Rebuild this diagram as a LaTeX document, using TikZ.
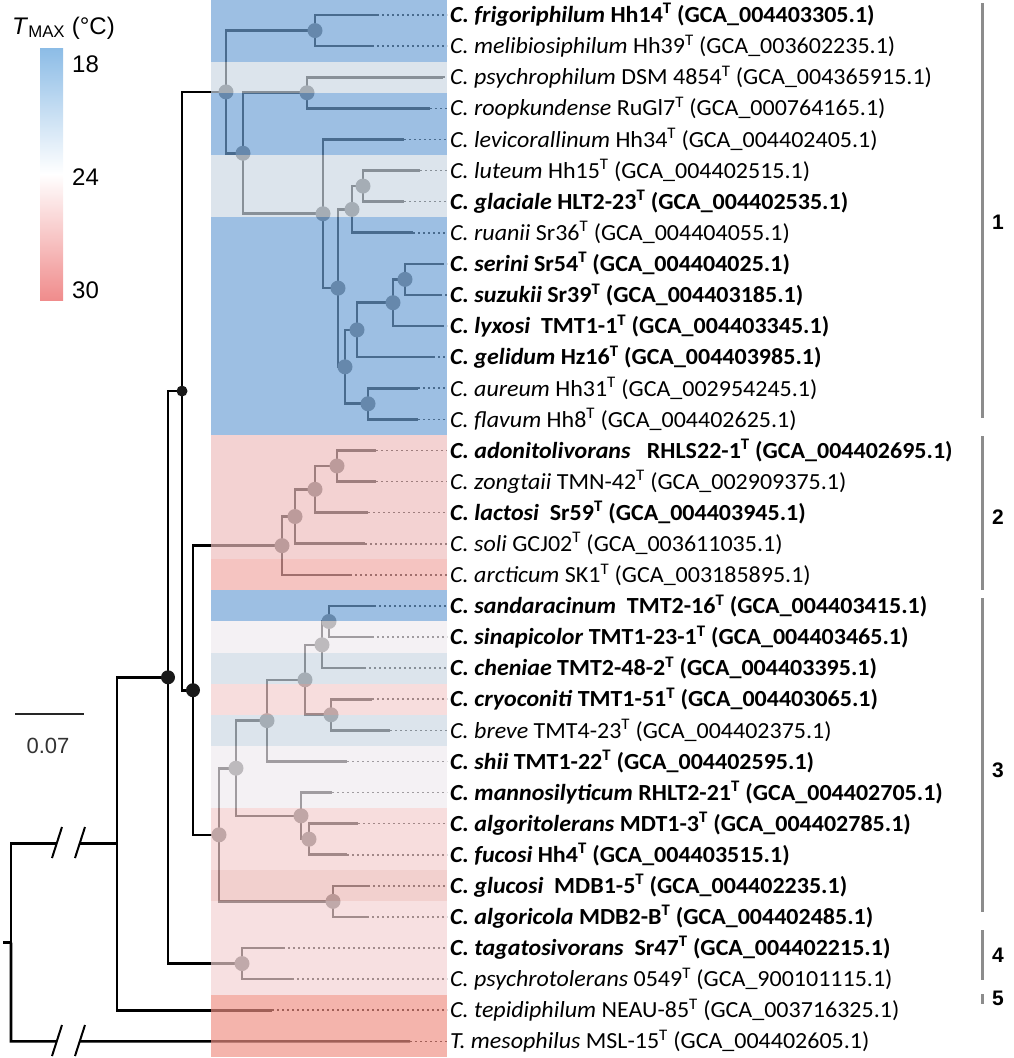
\documentclass[tikz,border=0pt]{standalone}
\usepackage{fontspec}
\setmainfont{Carlito}
\newfontfamily\arialfont{Liberation Sans}
\usepackage{graphicx}
\usetikzlibrary{positioning}

% band colours, laid over the tree at 67% opacity
\definecolor{bandblue}{RGB}{109,160,213}
\definecolor{bandpale}{RGB}{203,215,227}
\definecolor{bandpink}{RGB}{237,188,188}
\definecolor{bandarc}{RGB}{240,167,163}
\definecolor{bandwhite}{RGB}{239,234,239}
\definecolor{bandpinkl}{RGB}{243,204,204}
\definecolor{bandgluc}{RGB}{236,185,182}
\definecolor{bandpinkm}{RGB}{243,209,210}
\definecolor{bandsalmon}{RGB}{239,143,131}
% legend colours
\definecolor{legblue}{RGB}{140,188,230}
\definecolor{legpink}{RGB}{240,140,140}
\definecolor{cladegray}{RGB}{140,140,140}

\newcommand{\taxon}[3]{\scalebox{1}[0.96]{\textit{#1} #2\textsuperscript{T} (GCA\_#3)}}
\newcommand{\taxonb}[3]{\scalebox{1}[0.96]{\bfseries\textit{#1} #2\textsuperscript{T} (GCA\_#3)}}

\begin{document}
\begin{tikzpicture}[
    x=1pt, y=-1pt,
    % Tree styles
    branch/.style={line width=2.6pt, black},
    leader/.style={line width=1.6pt, black, dash pattern=on 1.6pt off 3.4pt},
    inode/.style={circle, fill=black!65, minimum size=15pt, inner sep=0pt},
    bnode/.style={circle, fill=black!90, minimum size=14pt, inner sep=0pt},
    band/.style={fill opacity=0.67},
    brk/.style={line width=2pt, black},
    % Text styles
    taxlabel/.style={anchor=west, inner sep=0pt, font=\fontsize{24}{26}\selectfont},
    legtext/.style={anchor=west, inner sep=0pt, font=\arialfont\fontsize{24}{26}\selectfont},
    cladenum/.style={inner sep=0pt, font=\arialfont\bfseries\fontsize{21}{24}\selectfont},
    cladebar/.style={line width=3pt, cladegray},
]
\useasboundingbox (0,0) rectangle (1013,1058);

% Leaf ends and leader dots
\foreach \i/\xe in {1/377, 2/372, 3/443, 4/430, 5/404, 6/420, 7/404, 8/413, 9/442, 10/440,
    11/442, 12/433, 13/418, 14/418, 15/376, 16/376, 17/368, 18/365, 19/350, 20/374,
    21/372, 22/364, 23/372, 24/390, 25/347, 26/332, 27/358, 28/347, 29/368, 30/367,
    31/283, 32/292, 33/272, 34/410} {
  \coordinate (l\i) at (\xe, {15+(\i-1)*31.1});
  \coordinate (e\i) at (447, {15+(\i-1)*31.1});
  \draw[leader] (l\i) -- (e\i);
}

% Clade 1
\coordinate (c1a) at (315, 30.55);
\coordinate (c1c) at (307, 92.75);
\coordinate (c1g) at (363, 186.05);
\coordinate (c1f) at (352, 209.4);
\coordinate (c1k) at (405, 279.35);
\coordinate (c1j) at (393, 302.7);
\coordinate (c1i) at (357, 329.9);
\coordinate (c1l) at (368, 403.75);
\coordinate (c1h) at (345, 366.8);
\coordinate (c1e) at (338, 288.1);
\coordinate (c1d) at (323, 213.75);
\coordinate (c1b) at (243, 153.25);
\coordinate (c1) at (226, 91.9);
% Clade 2
\coordinate (c2d) at (337, 465.95);
\coordinate (c2c) at (315, 489.3);
\coordinate (c2b) at (295, 516.5);
\coordinate (c2) at (282, 545.65);
% Clade 3
\coordinate (c3f) at (329, 621.45);
\coordinate (c3e) at (322, 644.8);
\coordinate (c3g) at (331, 714.75);
\coordinate (c3d) at (305, 679.8);
\coordinate (c3c) at (267, 720.6);
\coordinate (c3j) at (309, 839.15);
\coordinate (c3i) at (301, 815.8);
\coordinate (c3b) at (236, 768.2);
\coordinate (c3k) at (333, 901.35);
\coordinate (c3) at (219, 834.8);
% Clade 4
\coordinate (c4) at (242, 963.55);
% Backbone
\coordinate (nC) at (193, 690.2);
\coordinate (nB) at (182, 391.05);
\coordinate (nA) at (168, 677.3);
\coordinate (nR) at (117, 843.75);
\coordinate (root) at (11, 942.5);
\coordinate (tick) at (3, 942.5);
\coordinate (b1) at (57, 843.75);
\coordinate (b2) at (80, 843.75);
\coordinate (b3) at (57, 1041.3);
\coordinate (b4) at (80, 1041.3);

% Branches
\draw[branch] (c1a) |- (l1) (c1a) |- (l2);
\draw[branch] (c1c) |- (l3) (c1c) |- (l4);
\draw[branch] (c1g) |- (l6) (c1g) |- (l7);
\draw[branch] (c1f) |- (c1g) (c1f) |- (l8);
\draw[branch] (c1k) |- (l9) (c1k) |- (l10);
\draw[branch] (c1j) |- (c1k) (c1j) |- (l11);
\draw[branch] (c1i) |- (c1j) (c1i) |- (l12);
\draw[branch] (c1l) |- (l13) (c1l) |- (l14);
\draw[branch] (c1h) |- (c1i) (c1h) |- (c1l);
\draw[branch] (c1e) |- (c1f) (c1e) |- (c1h);
\draw[branch] (c1d) |- (l5) (c1d) |- (c1e);
\draw[branch] (c1b) |- (c1c) (c1b) |- (c1d);
\draw[branch] (c1) |- (c1a) (c1) |- (c1b);
\draw[branch] (c2d) |- (l15) (c2d) |- (l16);
\draw[branch] (c2c) |- (c2d) (c2c) |- (l17);
\draw[branch] (c2b) |- (c2c) (c2b) |- (l18);
\draw[branch] (c2) |- (c2b) (c2) |- (l19);
\draw[branch] (c3f) |- (l20) (c3f) |- (l21);
\draw[branch] (c3e) |- (c3f) (c3e) |- (l22);
\draw[branch] (c3g) |- (l23) (c3g) |- (l24);
\draw[branch] (c3d) |- (c3e) (c3d) |- (c3g);
\draw[branch] (c3c) |- (c3d) (c3c) |- (l25);
\draw[branch] (c3j) |- (l27) (c3j) |- (l28);
\draw[branch] (c3i) |- (l26) (c3i) |- (c3j);
\draw[branch] (c3b) |- (c3c) (c3b) |- (c3i);
\draw[branch] (c3k) |- (l29) (c3k) |- (l30);
\draw[branch] (c3) |- (c3b) (c3) |- (c3k);
\draw[branch] (c4) |- (l31) (c4) |- (l32);
\draw[branch] (nC) |- (c2) (nC) |- (c3);
\draw[branch] (nB) |- (c1) (nB) |- (nC);
\draw[branch] (nA) |- (nB) (nA) |- (c4);
\draw[branch] (nR) |- (nA) (nR) |- (l33);
\draw[branch] (tick) -- (root);
\draw[branch] (root) |- (b1) (b2) -- (nR);
\draw[branch] (root) |- (b3) (b4) -- (l34);

% Break marks
\draw[brk] (52,858) -- (62,827) (75,858) -- (85,827);
\draw[brk] (52,1056) -- (62,1025) (75,1056) -- (85,1025);

% Inner nodes
\foreach \n in {c1,c1a,c1b,c1c,c1d,c1e,c1f,c1g,c1h,c1i,c1j,c1k,c1l,
    c2,c2b,c2c,c2d,c3,c3b,c3c,c3d,c3e,c3f,c3g,c3i,c3j,c3k,c4}
  \node[inode] (dot-\n) at (\n) {};

% TMAX bands over the tree
\foreach \i/\c in {1/bandblue, 2/bandblue, 3/bandpale, 4/bandblue, 5/bandblue, 6/bandpale,
    7/bandpale, 8/bandblue, 9/bandblue, 10/bandblue, 11/bandblue, 12/bandblue, 13/bandblue,
    14/bandblue, 15/bandpink, 16/bandpink, 17/bandpink, 18/bandpink, 19/bandarc,
    20/bandblue, 21/bandwhite, 22/bandpale, 23/bandpinkl, 24/bandpale, 25/bandwhite,
    26/bandwhite, 27/bandpinkl, 28/bandpinkl, 29/bandgluc, 30/bandpinkm, 31/bandpinkm,
    32/bandpinkm, 33/bandsalmon, 34/bandsalmon}
  \fill[band, fill=\c] (211, {15+(\i-1.5)*31.1}) rectangle (447, {15+(\i-0.5)*31.1});

% Backbone nodes
\node[bnode] (dot-nA) at (nA) {};
\node[bnode, minimum size=11pt] (dot-nB) at (nB) {};
\node[bnode] (dot-nC) at (nC) {};

% Taxa
\node[taxlabel] (t1) at (450, 15.0) {\taxonb{C. frigoriphilum}{Hh14}{004403305.1}};
\node[taxlabel] (t2) at (450, 46.1) {\taxon{C. melibiosiphilum}{Hh39}{003602235.1}};
\node[taxlabel] (t3) at (450, 77.2) {\taxon{C. psychrophilum}{DSM 4854}{004365915.1}};
\node[taxlabel] (t4) at (450, 108.3) {\taxon{C. roopkundense}{RuGl7}{000764165.1}};
\node[taxlabel] (t5) at (450, 139.4) {\taxon{C. levicorallinum}{Hh34}{004402405.1}};
\node[taxlabel] (t6) at (450, 170.5) {\taxon{C. luteum}{Hh15}{004402515.1}};
\node[taxlabel] (t7) at (450, 201.6) {\taxonb{C. glaciale}{HLT2-23}{004402535.1}};
\node[taxlabel] (t8) at (450, 232.7) {\taxon{C. ruanii}{Sr36}{004404055.1}};
\node[taxlabel] (t9) at (450, 263.8) {\taxonb{C. serini}{Sr54}{004404025.1}};
\node[taxlabel] (t10) at (450, 294.9) {\taxonb{C. suzukii}{Sr39}{004403185.1}};
\node[taxlabel] (t11) at (450, 326.0) {\taxonb{C. lyxosi}{\ TMT1-1}{004403345.1}};
\node[taxlabel] (t12) at (450, 357.1) {\taxonb{C. gelidum}{Hz16}{004403985.1}};
\node[taxlabel] (t13) at (450, 388.2) {\taxon{C. aureum}{Hh31}{002954245.1}};
\node[taxlabel] (t14) at (450, 419.3) {\taxon{C. flavum}{Hh8}{004402625.1}};
\node[taxlabel] (t15) at (450, 450.4) {\taxonb{C. adonitolivorans}{\ \ RHLS22-1}{004402695.1}};
\node[taxlabel] (t16) at (450, 481.5) {\taxon{C. zongtaii}{TMN-42}{002909375.1}};
\node[taxlabel] (t17) at (450, 512.6) {\taxonb{C. lactosi}{\ Sr59}{004403945.1}};
\node[taxlabel] (t18) at (450, 543.7) {\taxon{C. soli}{GCJ02}{003611035.1}};
\node[taxlabel] (t19) at (450, 574.8) {\taxon{C. arcticum}{SK1}{003185895.1}};
\node[taxlabel] (t20) at (450, 605.9) {\taxonb{C. sandaracinum}{\ TMT2-16}{004403415.1}};
\node[taxlabel] (t21) at (450, 637.0) {\taxonb{C. sinapicolor}{TMT1-23-1}{004403465.1}};
\node[taxlabel] (t22) at (450, 668.1) {\taxonb{C. cheniae}{TMT2-48-2}{004403395.1}};
\node[taxlabel] (t23) at (450, 699.2) {\taxonb{C. cryoconiti}{TMT1-51}{004403065.1}};
\node[taxlabel] (t24) at (450, 730.3) {\taxon{C. breve}{TMT4-23}{004402375.1}};
\node[taxlabel] (t25) at (450, 761.4) {\taxonb{C. shii}{TMT1-22}{004402595.1}};
\node[taxlabel] (t26) at (450, 792.5) {\taxonb{C. mannosilyticum}{RHLT2-21}{004402705.1}};
\node[taxlabel] (t27) at (450, 823.6) {\taxonb{C. algoritolerans}{MDT1-3}{004402785.1}};
\node[taxlabel] (t28) at (450, 854.7) {\taxonb{C. fucosi}{Hh4}{004403515.1}};
\node[taxlabel] (t29) at (450, 885.8) {\taxonb{C. glucosi}{\ MDB1-5}{004402235.1}};
\node[taxlabel] (t30) at (450, 916.9) {\taxonb{C. algoricola}{MDB2-B}{004402485.1}};
\node[taxlabel] (t31) at (450, 948.0) {\taxonb{C. tagatosivorans}{\ Sr47}{004402215.1}};
\node[taxlabel] (t32) at (450, 979.1) {\taxon{C. psychrotolerans}{0549}{900101115.1}};
\node[taxlabel] (t33) at (450, 1010.2) {\taxon{C. tepidiphilum}{NEAU-85}{003716325.1}};
\node[taxlabel] (t34) at (450, 1041.3) {\taxon{T. mesophilus}{MSL-15}{004402605.1}};

% Clade bars
\draw[cladebar] (982,3) -- (982,418);
\draw[cladebar] (982,436) -- (982,590);
\draw[cladebar] (982,598) -- (982,912);
\draw[cladebar] (982,930) -- (982,980);
\draw[cladebar] (982,994) -- (982,1004);
\node[cladenum] (k1) at (998,222) {1};
\node[cladenum] (k2) at (998,517) {2};
\node[cladenum] (k3) at (998,770) {3};
\node[cladenum] (k4) at (998,955) {4};
\node[cladenum] (k5) at (998,998) {5};

% Legend
\node[legtext] (tmax) at (12,28) {\textit{T}\textsubscript{MAX} (°C)};
\shade[top color=legblue, bottom color=legpink, middle color=white] (40,48) rectangle (63,300);
\node[legtext] (v18) at (72,64) {18};
\node[legtext] (v24) at (72,177) {24};
\node[legtext] (v30) at (72,290) {30};

% Scale bar
\draw[line width=2pt, black!85] (15,714) -- (84,714);
\node[inner sep=0pt, font=\arialfont\fontsize{22}{24}\selectfont, text=black!80] (sc) at (48,746) {0.07};

\end{tikzpicture}
\end{document}
